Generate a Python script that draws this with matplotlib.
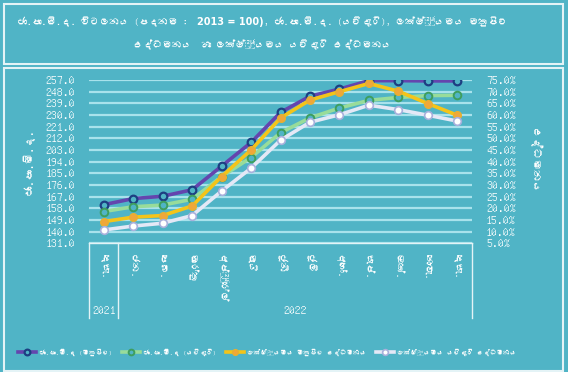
import matplotlib
matplotlib.use("Agg")
import matplotlib.pyplot as plt
import numpy as np
from matplotlib import font_manager
from matplotlib.ft2font import FT2Font
from matplotlib.patches import Rectangle

# data
months = ["දෙසැ.", "ජන.", "පෙබ.", "මාර්තු", "අප්‍රේල්", "මැයි", "ජූනි",
          "ජූලි", "අගෝ.", "සැප්.", "ඔක්.", "නොවැ.", "දෙසැ."]
years = ["2021", "2022"]
year_first = [0, 1]
year_last = [0, 12]
ccpi = [160.8, 165.5, 167.3, 172.3, 190.5, 208.8, 232.0, 244.5, 250.0, 256.5, 256.5, 256.3, 256.3]
ccpi_core = [155.5, 159.2, 160.5, 165.0, 182.4, 197.2, 216.3, 227.8, 235.4, 241.3, 243.5, 245.0, 245.2]
headline = [14.3, 16.2, 16.9, 21.0, 33.6, 45.0, 58.7, 66.4, 70.0, 73.5, 70.2, 64.9, 59.9]
core = [10.7, 12.4, 13.6, 16.9, 27.4, 37.2, 49.2, 56.9, 60.1, 64.2, 62.3, 59.9, 57.4]
series_names = ["ජා.පා.මි.ද (මතුපිට)", "ජා.පා.මි.ද (යටිදැරි)",
                "ලක්ෂ්‍යමය මතුපිට උද්ධමනය", "ලක්ෂ්‍යමය යටිදැරි උද්ධමනය"]
left_ticks = np.arange(131, 258, 9)
right_ticks = np.arange(5, 76, 5)


# look for any installed font that has sinhala letters
def find_sinhala():
    for f in font_manager.fontManager.ttflist:
        try:
            if 0x0DA2 in FT2Font(f.fname).get_charmap():
                return f.name
        except Exception:
            pass
    return None


sin = find_sinhala()
fams = [sin, "DejaVu Sans"] if sin else ["DejaVu Sans"]
plt.rcParams["font.family"] = fams

bg = "#50b4c6"
W, H = 568, 381
fig = plt.figure(figsize=(W / 100, H / 100), dpi=100, facecolor=bg)
renderer = fig.canvas.get_renderer()

# frames
fig.patches.append(Rectangle((4 / W, 1 - 64 / H), 559 / W, 60 / H, transform=fig.transFigure,
                             fill=False, ec="#e4f3f6", lw=1.5))
fig.patches.append(Rectangle((4 / W, 1 - 371 / H), 559 / W, 303 / H, transform=fig.transFigure,
                             fill=False, ec="#e4f3f6", lw=1.5))
fig.patches.append(Rectangle((0, 0), 1, 9 / H, transform=fig.transFigure,
                             fc="white", ec="none"))

# title, with the bold part in the middle of line one
tc = 262 / W
ty = 1 - 22 / H
t1 = fig.text(0, ty, "ජා.පා.මි.ද. විචලනය (පදනම :  ", color="white", fontsize=9, va="center")
t2 = fig.text(0, ty, "2013 = 100)", color="white", fontsize=9, va="center", fontweight="bold",
              family="DejaVu Sans")
t3 = fig.text(0, ty, ", ජා.පා.මි.ද. (යටිදැරි), ලක්ෂ්‍යමය මතුපිට", color="white", fontsize=9, va="center")
t4 = fig.text(tc, 1 - 45 / H, "උද්ධමනය  හා ලක්ෂ්‍යමය යටිදැරි උද්ධමනය", color="white",
              fontsize=9, ha="center", va="center")
parts = (t1, t2, t3)
for _ in range(3):
    tot = sum(t.get_window_extent(renderer).width for t in parts)
    if tot <= 492:
        break
    fs = parts[0].get_fontsize() * 492 / tot
    for t in parts + (t4,):
        t.set_fontsize(fs)
ws = [t.get_window_extent(renderer).width / W for t in parts]
x0 = tc - sum(ws) / 2
t1.set_x(x0)
t2.set_x(x0 + ws[0])
t3.set_x(x0 + ws[0] + ws[1])

ax = fig.add_axes([89 / W, 1 - 243.3 / H, 383 / W, 163.3 / H])
ax.set_facecolor("none")
ax2 = ax.twinx()

x = np.arange(len(months))
l1, = ax.plot(x, ccpi, color="#6445ae", lw=2.6, marker="o", ms=5.5, mfc=bg, mec="#1d3f82",
              mew=1.6, zorder=3)
l2, = ax.plot(x, ccpi_core, color="#98dc9a", lw=2.6, marker="o", ms=5.5, mfc=bg, mec="#3e9e5e",
              mew=1.4, zorder=3)
l3, = ax2.plot(x, headline, color="#f4c419", lw=2.6, marker="o", ms=5.5, mfc="#f0a73a",
               mec="#e8b030", mew=1.0, zorder=3)
l4, = ax2.plot(x, core, color="#e4e8f6", lw=2.6, marker="o", ms=5.5, mfc="white",
               mec="#a9b0dc", mew=1.2, zorder=3)

ax.set_xlim(-0.5, len(months) - 0.5)
ax.set_ylim(131, 257)
ax2.set_ylim(5, 75)
ax.set_yticks(left_ticks, [f"{v:.1f}" for v in left_ticks])
ax2.set_yticks(right_ticks, [f"{v:.1f}%" for v in right_ticks])
ax.set_xticks(x, months, rotation=270)
ax.tick_params(axis="y", length=0, pad=10, labelsize=8.5, labelcolor="white")
ax2.tick_params(axis="y", length=0, pad=10, labelsize=8.5, labelcolor="white")
ax.tick_params(axis="x", length=0, pad=8, labelsize=7, labelcolor="white")
for a in (ax, ax2):
    for s in a.spines.values():
        s.set_visible(False)
ax.spines["bottom"].set_visible(True)
ax.spines["bottom"].set_color("#e4f3f6")
ax.spines["bottom"].set_linewidth(1.0)
ax.yaxis.grid(True, color="#a8e2ec", lw=1.6)
ax.set_axisbelow(True)

ax.set_ylabel("ජා.පා.මි.ද.", color="white", fontsize=8, labelpad=8)
ax2.set_ylabel("උද්ධමනය", color="white", fontsize=8, rotation=270, labelpad=18)

# year grouping under the month labels
tr = ax.get_xaxis_transform()
bottom = -0.457
for xs in [-0.5] + [last + 0.5 for last in year_last]:
    ax.plot([xs, xs], [0, bottom], transform=tr, color="#e4f3f6", lw=1.0, clip_on=False)
for name, a, b in zip(years, year_first, year_last):
    ax.text((a + b) / 2, -0.41, name, transform=tr, ha="center", va="center",
            color="white", fontsize=8.5)


def make_legend(fs):
    return fig.legend([l1, l2, l3, l4], series_names, loc="center",
                      bbox_to_anchor=(0.47, 1 - 352 / H), ncol=4, frameon=False,
                      fontsize=fs, labelcolor="white", handlelength=2.8, markerscale=0.75,
                      columnspacing=1.4, handletextpad=0.4)


leg_fs = 6.5
leg = make_legend(leg_fs)
for _ in range(3):
    lw_ = leg.get_window_extent(renderer).width
    if lw_ <= 520:
        break
    leg.remove()
    leg_fs = leg_fs * 505 / lw_
    leg = make_legend(leg_fs)

fig.savefig("out.png", dpi=100, facecolor=bg)
